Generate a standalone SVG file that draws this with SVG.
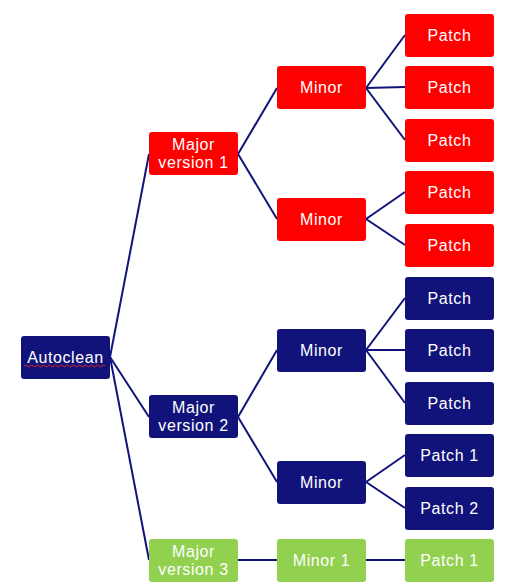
<svg xmlns="http://www.w3.org/2000/svg" width="508" height="584" viewBox="0 0 508 584">
<style>
.n rect{rx:3;ry:3}
.red rect{fill:#ff0000}
.blue rect{fill:#12137a}
.green rect{fill:#92d050}
text{font-family:"Liberation Sans",Arial,sans-serif;font-size:16px;letter-spacing:0.6px;fill:#ffffff;text-anchor:middle}
#edges line{stroke:#12137a;stroke-width:2}
</style>
<rect width="508" height="584" fill="#ffffff"/>
<g id="edges">
<line x1="110" y1="357" x2="149" y2="154"/>
<line x1="110" y1="357" x2="149" y2="417"/>
<line x1="110" y1="357" x2="149" y2="560"/>
<line x1="238" y1="154" x2="277" y2="88"/>
<line x1="238" y1="154" x2="277" y2="219"/>
<line x1="366" y1="88" x2="405" y2="35"/>
<line x1="366" y1="88" x2="405" y2="87"/>
<line x1="366" y1="88" x2="405" y2="140"/>
<line x1="366" y1="219" x2="405" y2="192"/>
<line x1="366" y1="219" x2="405" y2="245"/>
<line x1="238" y1="417" x2="277" y2="350"/>
<line x1="238" y1="417" x2="277" y2="482"/>
<line x1="366" y1="350" x2="405" y2="298"/>
<line x1="366" y1="350" x2="405" y2="350"/>
<line x1="366" y1="350" x2="405" y2="403"/>
<line x1="366" y1="482" x2="405" y2="455"/>
<line x1="366" y1="482" x2="405" y2="508"/>
<line x1="238" y1="560" x2="277" y2="560"/>
<line x1="366" y1="560" x2="405" y2="560"/>
</g>
<g id="autoclean" class="n blue"><rect x="21" y="336" width="89" height="43"/><text x="65.5" y="363">Autoclean</text><path d="M24 366 q1.5 -2 3 0 t3 0 t3 0 t3 0 t3 0 t3 0 t3 0 t3 0 t3 0 t3 0 t3 0 t3 0 t3 0 t3 0 t3 0 t3 0 t3 0 t3 0 t3 0 t3 0 t3 0 t3 0 t3 0 t3 0 t3 0 t3 0 t3 0" fill="none" stroke="#e02020" stroke-width="1"/></g>
<g id="major1" class="n red"><rect x="149" y="132" width="89" height="43"/><text x="193.5" y="150">Major<tspan x="193.5" dy="18">version 1</tspan></text></g>
<g id="major2" class="n blue"><rect x="149" y="395" width="89" height="43"/><text x="193.5" y="413">Major<tspan x="193.5" dy="18">version 2</tspan></text></g>
<g id="major3" class="n green"><rect x="149" y="539" width="89" height="43"/><text x="193.5" y="557">Major<tspan x="193.5" dy="18">version 3</tspan></text></g>
<g id="minor1a" class="n red"><rect x="277" y="66" width="89" height="43"/><text x="321.5" y="93">Minor</text></g>
<g id="minor1b" class="n red"><rect x="277" y="198" width="89" height="43"/><text x="321.5" y="225">Minor</text></g>
<g id="minor2a" class="n blue"><rect x="277" y="329" width="89" height="43"/><text x="321.5" y="356">Minor</text></g>
<g id="minor2b" class="n blue"><rect x="277" y="461" width="89" height="43"/><text x="321.5" y="488">Minor</text></g>
<g id="minor3" class="n green"><rect x="277" y="539" width="89" height="43"/><text x="321.5" y="566">Minor 1</text></g>
<g id="p1" class="n red"><rect x="405" y="14" width="89" height="43"/><text x="449.5" y="41">Patch</text></g>
<g id="p2" class="n red"><rect x="405" y="66" width="89" height="43"/><text x="449.5" y="93">Patch</text></g>
<g id="p3" class="n red"><rect x="405" y="119" width="89" height="43"/><text x="449.5" y="146">Patch</text></g>
<g id="p4" class="n red"><rect x="405" y="171" width="89" height="43"/><text x="449.5" y="198">Patch</text></g>
<g id="p5" class="n red"><rect x="405" y="224" width="89" height="43"/><text x="449.5" y="251">Patch</text></g>
<g id="p6" class="n blue"><rect x="405" y="277" width="89" height="43"/><text x="449.5" y="304">Patch</text></g>
<g id="p7" class="n blue"><rect x="405" y="329" width="89" height="43"/><text x="449.5" y="356">Patch</text></g>
<g id="p8" class="n blue"><rect x="405" y="382" width="89" height="43"/><text x="449.5" y="409">Patch</text></g>
<g id="p9" class="n blue"><rect x="405" y="434" width="89" height="43"/><text x="449.5" y="461">Patch 1</text></g>
<g id="p10" class="n blue"><rect x="405" y="487" width="89" height="43"/><text x="449.5" y="514">Patch 2</text></g>
<g id="p11" class="n green"><rect x="405" y="539" width="89" height="43"/><text x="449.5" y="566">Patch 1</text></g>
</svg>
